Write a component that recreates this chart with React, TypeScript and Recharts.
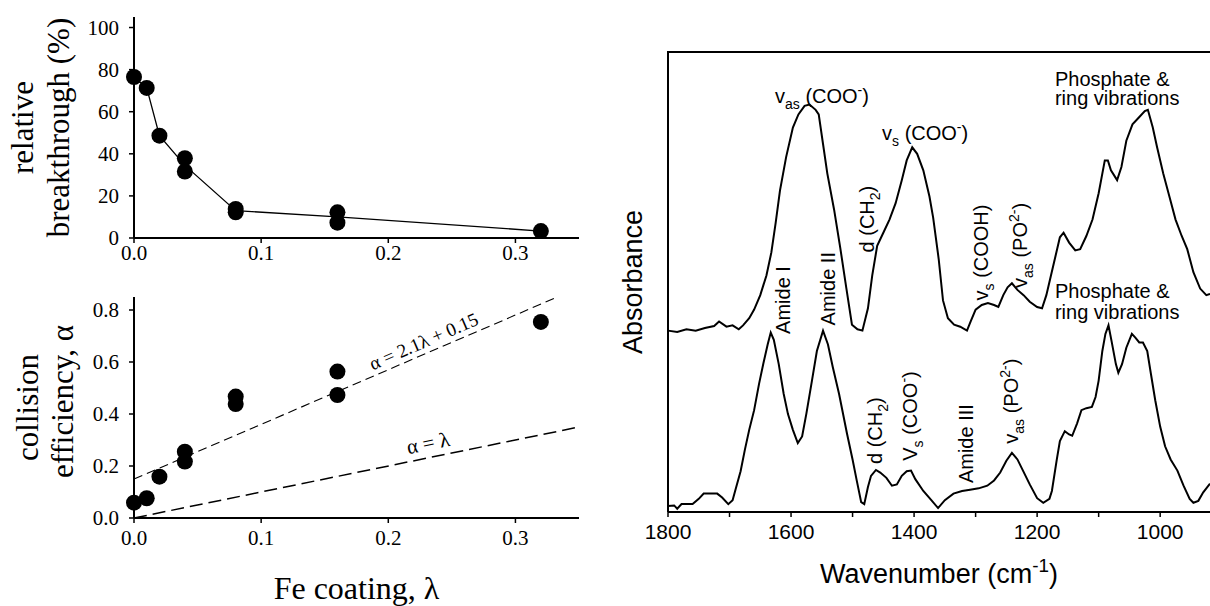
import React from 'react'
import { ScatterChart, ComposedChart, Scatter, Line, XAxis, YAxis, Label, CartesianGrid } from 'recharts'

const SERIF = '"Liberation Serif", "Times New Roman", serif'
const SANS = '"Liberation Sans", Arial, Helvetica, sans-serif'

// left panels: Fe coating (lambda)
const lambdaTicks = [0, 0.1, 0.2, 0.3]
const breakthroughTicks = [0, 20, 40, 60, 80, 100]
const alphaTicks = [0, 0.2, 0.4, 0.6, 0.8]

const lambdaMeasured = [0, 0.01, 0.02, 0.04, 0.04, 0.08, 0.08, 0.16, 0.16, 0.32]
const breakthrough = [76.5, 71.3, 48.6, 37.9, 31.6, 13.8, 12.2, 12.2, 7.3, 3.3]
const lambdaMean = [0, 0.01, 0.02, 0.04, 0.08, 0.16, 0.32]
const breakthroughMean = [76.5, 71.3, 48.6, 34.5, 13, 10, 3.3]
const alpha = [0.059, 0.076, 0.159, 0.255, 0.217, 0.467, 0.438, 0.563, 0.473, 0.754]

const fitLine = [{ x: 0, y: 0.15 }, { x: 0.333, y: 0.85 }]
const unityLine = [{ x: 0, y: 0 }, { x: 0.35, y: 0.35 }]
const fitLabels = [
  { x: 0.2278, y: 0.68, label: 'α = 2.1λ + 0.15', angle: -23.5, size: 19 },
  { x: 0.2313, y: 0.288, label: 'α = λ', angle: -11.5, size: 21 },
]

// right panel: FTIR spectra [wavenumber, absorbance offset units]
const wnTicks = [1800, 1700, 1600, 1500, 1400, 1300, 1200, 1100, 1000]
const absTicks = [0, 1, 2, 3, 4, 5, 6, 7]
const absTop = 7

const upperSpectrum: [number, number][] = [
  [1800, 2.76], [1785, 2.74], [1770, 2.78], [1755, 2.76], [1740, 2.8], [1725, 2.83], [1717, 2.9],
  [1705, 2.82], [1695, 2.84], [1685, 2.78], [1678, 2.84], [1668, 2.95], [1660, 3.08], [1650, 3.3],
  [1640, 3.6], [1632, 3.95], [1625, 4.4], [1618, 4.89], [1608, 5.4], [1597, 5.85], [1588, 6.05],
  [1578, 6.18], [1570, 6.2], [1560, 6.12], [1555, 6.05], [1548, 5.6], [1541, 5.15], [1530, 4.6],
  [1520, 4.02], [1510, 3.4], [1501, 2.85], [1492, 2.78], [1484, 2.76], [1475, 3.1], [1468, 3.6],
  [1460, 4.05], [1450, 4.25], [1440, 4.45], [1430, 4.7], [1420, 5.05], [1412, 5.35], [1403, 5.55],
  [1395, 5.45], [1385, 5.2], [1375, 4.8], [1369, 4.48], [1360, 3.85], [1353, 3.22], [1345, 2.95],
  [1335, 2.85], [1325, 2.82], [1314, 2.76], [1308, 2.9], [1300, 3.08], [1290, 3.15], [1280, 3.18],
  [1270, 3.15], [1263, 3.12], [1255, 3.3], [1248, 3.42], [1241, 3.48], [1232, 3.38], [1222, 3.3],
  [1212, 3.2], [1200, 3.12], [1192, 3.1], [1185, 3.3], [1178, 3.58], [1170, 3.9], [1163, 4.18],
  [1157, 4.25], [1148, 4.1], [1138, 3.98], [1130, 4.0], [1120, 4.2], [1110, 4.45], [1100, 4.85],
  [1090, 5.35], [1085, 5.35], [1080, 5.2], [1070, 5.05], [1063, 5.25], [1055, 5.65], [1045, 5.9],
  [1035, 6.0], [1025, 6.1], [1020, 6.12], [1012, 5.85], [1005, 5.55], [995, 5.15], [985, 4.8],
  [975, 4.45], [965, 4.2], [956, 4.0], [946, 3.65], [935, 3.4], [925, 3.3], [919, 3.32],
]

const lowerSpectrum: [number, number][] = [
  [1800, 0.09], [1790, 0.1], [1785, 0.05], [1778, 0.12], [1760, 0.12], [1750, 0.2], [1742, 0.28],
  [1720, 0.28], [1712, 0.22], [1702, 0.12], [1695, 0.18], [1690, 0.35], [1682, 0.62], [1675, 0.95],
  [1668, 1.25], [1660, 1.55], [1652, 1.95], [1645, 2.26], [1638, 2.55], [1633, 2.73], [1628, 2.62],
  [1620, 2.25], [1612, 1.8], [1605, 1.49], [1597, 1.25], [1589, 1.05], [1582, 1.15], [1575, 1.5],
  [1566, 2.0], [1558, 2.45], [1548, 2.76], [1540, 2.55], [1532, 2.2], [1522, 1.8], [1509, 1.19],
  [1500, 0.8], [1493, 0.47], [1486, 0.15], [1481, 0.12], [1475, 0.38], [1470, 0.55], [1462, 0.64],
  [1455, 0.6], [1445, 0.52], [1436, 0.4], [1428, 0.42], [1420, 0.55], [1412, 0.62], [1405, 0.63],
  [1398, 0.5], [1385, 0.32], [1372, 0.18], [1361, 0.06], [1350, 0.18], [1336, 0.28], [1322, 0.32],
  [1309, 0.34], [1295, 0.36], [1281, 0.4], [1270, 0.48], [1260, 0.6], [1250, 0.78], [1241, 0.9],
  [1232, 0.8], [1223, 0.63], [1212, 0.42], [1200, 0.21], [1190, 0.14], [1180, 0.2], [1176, 0.32],
  [1168, 0.8], [1163, 1.08], [1155, 1.23], [1148, 1.18], [1143, 1.16], [1135, 1.35], [1128, 1.55],
  [1120, 1.58], [1111, 1.6], [1105, 1.75], [1100, 2.0], [1094, 2.45], [1089, 2.71], [1084, 2.84],
  [1079, 2.6], [1072, 2.25], [1068, 2.12], [1062, 2.25], [1055, 2.5], [1046, 2.71], [1040, 2.65],
  [1034, 2.58], [1028, 2.58], [1021, 2.45], [1015, 2.1], [1008, 1.7], [1000, 1.3], [992, 1.0],
  [983, 0.8], [972, 0.63], [962, 0.4], [952, 0.2], [946, 0.14], [938, 0.17], [930, 0.3], [919, 0.43],
]

// band assignments; _{..} subscript, ^{..} superscript
const bandLabels = [
  { x: 1626, y: 6.22, label: 'v_{as} (COO^{-})', vertical: false },
  { x: 1452, y: 5.66, label: 'v_{s} (COO^{-})', vertical: false },
  { x: 1171, y: 6.49, label: 'Phosphate &', vertical: false },
  { x: 1171, y: 6.19, label: 'ring vibrations', vertical: false },
  { x: 1465, y: 3.95, label: 'd (CH_{2})', vertical: true },
  { x: 1280, y: 3.22, label: 'v_{s} (COOH)', vertical: true },
  { x: 1216, y: 3.41, label: 'v_{as} (PO^{2-})', vertical: true },
  { x: 1602, y: 2.71, label: 'Amide I', vertical: true },
  { x: 1528, y: 2.84, label: 'Amide II', vertical: true },
  { x: 1171, y: 3.25, label: 'Phosphate &', vertical: false },
  { x: 1171, y: 2.93, label: 'ring vibrations', vertical: false },
  { x: 1452, y: 0.73, label: 'd (CH_{2})', vertical: true },
  { x: 1395, y: 0.78, label: 'V_{s} (COO^{-})', vertical: true },
  { x: 1304, y: 0.44, label: 'Amide III', vertical: true },
  { x: 1231, y: 1.04, label: 'v_{as} (PO^{2-})', vertical: true },
]

const toPts = (xs: number[], ys: number[]) => xs.map((x, i) => ({ x, y: ys[i] }))
const toXY = (arr: [number, number][]) => arr.map(([x, y]) => ({ x, y }))

function rich(label: string, size: number) {
  const parts = label.split(/(_\{[^}]*\}|\^\{[^}]*\})/).filter(Boolean)
  let shift = 0
  return parts.map((p, i) => {
    let kind = ''
    let t = p
    if (p.startsWith('_{')) { kind = 'sub'; t = p.slice(2, -1) }
    if (p.startsWith('^{')) { kind = 'sup'; t = p.slice(2, -1) }
    const target = kind === 'sub' ? size * 0.3 : kind === 'sup' ? -size * 0.42 : 0
    const dy = target - shift
    shift = target
    return (
      <tspan key={i} dy={dy} fontSize={kind ? size * 0.7 : size}>{t}</tspan>
    )
  })
}

const Dot = (p: any) => <circle cx={p.cx} cy={p.cy} r={8} fill="#000" />
const NoDot = () => <g />

const FitText = (p: any) => {
  const d = p.payload
  return (
    <text x={p.cx} y={p.cy} transform={`rotate(${d.angle} ${p.cx} ${p.cy})`} textAnchor="middle"
      dominantBaseline="central" fontFamily={SERIF} fontSize={d.size} fill="#000">{d.label}</text>
  )
}

const BandText = (p: any) => {
  const d = p.payload
  return (
    <text x={p.cx} y={p.cy} transform={d.vertical ? `rotate(-90 ${p.cx} ${p.cy})` : undefined}
      fontFamily={SANS} fontSize={20} fill="#000">{rich(d.label, 20)}</text>
  )
}

const axisLine = { stroke: '#000', strokeWidth: 2 }
const tickLine = { stroke: '#000', strokeWidth: 1.5 }
const serifTick = { fill: '#000', fontSize: 21, fontFamily: SERIF }

function YTitle(lines: { text: string; x: number; dy: number }[]) {
  return (props: any) => {
    const vb = props.viewBox || { y: 17, height: 221 }
    const cy = vb.y + vb.height / 2
    return (
      <g>
        {lines.map((l, i) => (
          <text key={i} x={l.x} y={cy + l.dy} transform={`rotate(-90 ${l.x} ${cy + l.dy})`} textAnchor="middle"
            fontFamily={SERIF} fontSize={31} fill="#000">{l.text}</text>
        ))}
      </g>
    )
  }
}

function BreakthroughPanel() {
  return (
    <ScatterChart width={600} height={280} margin={{ top: 17, right: 21, bottom: 0, left: 0 }}>
      <XAxis type="number" dataKey="x" domain={[0, 0.35]} ticks={lambdaTicks} tickFormatter={(v) => v.toFixed(1)}
        height={42} axisLine={axisLine} tickLine={tickLine} tickSize={5} tickMargin={2} tick={serifTick} />
      <YAxis type="number" dataKey="y" domain={[0, 105]} ticks={breakthroughTicks} width={134}
        axisLine={axisLine} tickLine={tickLine} tickSize={5} tickMargin={10} tick={serifTick}>
        <Label content={YTitle([{ text: 'relative', x: 33, dy: 0 }, { text: 'breakthrough (%)', x: 69, dy: 0 }])} />
      </YAxis>
      <Scatter data={toPts(lambdaMean, breakthroughMean)} line={{ stroke: '#000', strokeWidth: 1.3 }}
        shape={NoDot} isAnimationActive={false} />
      <Scatter data={toPts(lambdaMeasured, breakthrough)} shape={Dot} isAnimationActive={false} />
    </ScatterChart>
  )
}

function CollisionPanel() {
  return (
    <ScatterChart width={600} height={326} margin={{ top: 17, right: 21, bottom: 0, left: 0 }}>
      <XAxis type="number" dataKey="x" domain={[0, 0.35]} ticks={lambdaTicks} tickFormatter={(v) => v.toFixed(1)}
        height={88} axisLine={axisLine} tickLine={tickLine} tickSize={5} tickMargin={7} tick={serifTick}>
        <Label content={(props: any) => {
          const vb = props.viewBox || { x: 134, width: 445 }
          return (
            <text x={vb.x + vb.width / 2} y={319} textAnchor="middle" fontFamily={SERIF} fontSize={32} fill="#000">
              Fe coating, λ
            </text>
          )
        }} />
      </XAxis>
      <YAxis type="number" dataKey="y" domain={[0, 0.85]} ticks={alphaTicks} tickFormatter={(v) => v.toFixed(1)}
        width={134} axisLine={axisLine} tickLine={tickLine} tickSize={5} tickMargin={10} tick={serifTick}>
        <Label content={YTitle([{ text: 'collision', x: 38, dy: 0 }, { text: 'efficiency, α', x: 73, dy: -6 }])} />
      </YAxis>
      <Scatter data={fitLine} line={{ stroke: '#000', strokeWidth: 1.1, strokeDasharray: '9 5' }}
        shape={NoDot} isAnimationActive={false} />
      <Scatter data={unityLine} line={{ stroke: '#000', strokeWidth: 1.5, strokeDasharray: '13 6' }}
        shape={NoDot} isAnimationActive={false} />
      <Scatter data={toPts(lambdaMeasured, alpha)} shape={Dot} isAnimationActive={false} />
      <Scatter data={fitLabels} shape={FitText} isAnimationActive={false} />
    </ScatterChart>
  )
}

function SpectraPanel() {
  const sansTick = { fill: '#000', fontSize: 21, fontFamily: SANS }
  return (
    <ComposedChart width={610} height={606} margin={{ top: 52, right: 0, bottom: 0, left: 68 }}>
      <CartesianGrid vertical={false} horizontalValues={[absTop]} stroke="#000" strokeWidth={2} />
      <XAxis type="number" dataKey="x" domain={[919, 1800]} reversed ticks={wnTicks}
        tickFormatter={(v) => (v % 200 === 0 ? String(v) : '')} height={94} axisLine={axisLine}
        tickLine={tickLine} tickSize={5} tickMargin={7} tick={sansTick}>
        <Label content={(props: any) => {
          const vb = props.viewBox || { x: 68, width: 542 }
          return (
            <text x={vb.x + vb.width / 2} y={583} textAnchor="middle" fontFamily={SANS} fontSize={27} fill="#000">
              {rich('Wavenumber (cm^{-1})', 27)}
            </text>
          )
        }} />
      </XAxis>
      <YAxis type="number" dataKey="y" domain={[0, absTop]} ticks={absTicks} mirror tick={false}
        axisLine={axisLine} tickLine={{ stroke: '#000', strokeWidth: 1 }} tickSize={3}>
        <Label content={(props: any) => {
          const vb = props.viewBox || { y: 52, height: 460 }
          const cy = vb.y + vb.height / 2
          return (
            <text x={42} y={cy} transform={`rotate(-90 42 ${cy})`} textAnchor="middle" fontFamily={SANS}
              fontSize={27} fill="#000">Absorbance</text>
          )
        }} />
      </YAxis>
      <Line data={toXY(upperSpectrum)} dataKey="y" type="linear" stroke="#000" strokeWidth={2}
        dot={false} activeDot={false} isAnimationActive={false} />
      <Line data={toXY(lowerSpectrum)} dataKey="y" type="linear" stroke="#000" strokeWidth={2}
        dot={false} activeDot={false} isAnimationActive={false} />
      <Scatter data={bandLabels} dataKey="y" shape={BandText} isAnimationActive={false} />
    </ComposedChart>
  )
}

export default function App() {
  return (
    <div style={{ position: 'absolute', left: 0, top: 0, width: 1210, height: 606, background: '#fff', overflow: 'hidden' }}>
      <div style={{ position: 'absolute', left: 0, top: 0 }}>
        <BreakthroughPanel />
      </div>
      <div style={{ position: 'absolute', left: 0, top: 280 }}>
        <CollisionPanel />
      </div>
      <div style={{ position: 'absolute', left: 600, top: 0 }}>
        <SpectraPanel />
      </div>
      {/* top edge of the spectra frame */}
      <div style={{ position: 'absolute', left: 667, top: 51, width: 543, height: 2, background: '#000' }} />
    </div>
  )
}
